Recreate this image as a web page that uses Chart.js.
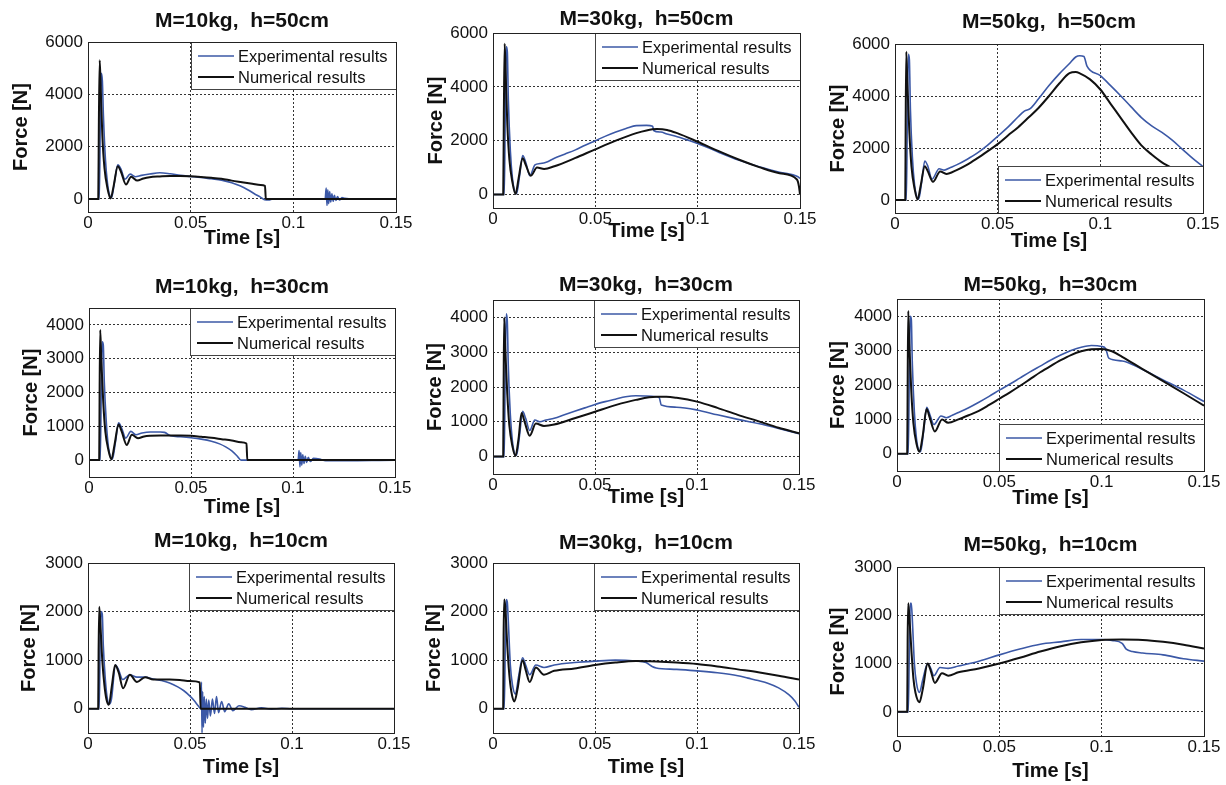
<!DOCTYPE html>
<html>
<head>
<meta charset="utf-8">
<script src="https://cdn.jsdelivr.net/npm/chart.js@4/dist/chart.umd.min.js"></script>
<style>
  html, body { margin: 0; padding: 0; background: #fff; overflow: hidden; }
  #page { position: relative; width: 1226px; height: 785px; overflow: hidden; }
  .panel { position: absolute; }
  .panel canvas { display: block; }
</style>
</head>
<body>
<div id="page"></div>
<script>
// ---- axis ticks -----------------------------------------------------------
const xTicks = [0, 0.05, 0.1, 0.15];
const xTickLabels = ['0', '0.05', '0.1', '0.15'];
const yTicks50 = [0, 2000, 4000, 6000];
const yTicks30 = [0, 1000, 2000, 3000, 4000];
const yTicks10 = [0, 1000, 2000, 3000];

const seriesNames = ['Experimental results', 'Numerical results'];
const panelTitles = [
  'M=10kg,  h=50cm', 'M=30kg,  h=50cm', 'M=50kg,  h=50cm',
  'M=10kg,  h=30cm', 'M=30kg,  h=30cm', 'M=50kg,  h=30cm',
  'M=10kg,  h=10cm', 'M=30kg,  h=10cm', 'M=50kg,  h=10cm'
];

// ---- M=10kg, h=50cm -------------------------------------------------------
const t_10_50_exp = [0, 0.0055, 0.006, 0.0065, 0.007, 0.0075, 0.0085, 0.0095, 0.0105, 0.0115, 0.013, 0.0145, 0.016, 0.018, 0.0205, 0.023, 0.026, 0.03, 0.035, 0.04, 0.045, 0.05, 0.055, 0.06, 0.065, 0.07, 0.074, 0.078, 0.081, 0.084, 0.086, 0.088, 0.09, 0.1, 0.1155, 0.116, 0.1164, 0.1168, 0.1172, 0.1177, 0.1182, 0.1188, 0.1194, 0.12, 0.1207, 0.1215, 0.1225, 0.1237, 0.125, 0.13, 0.15];
const f_10_50_exp = [0, 0, 3000, 4800, 4500, 3200, 1500, 600, 150, 50, 700, 1300, 1150, 750, 950, 850, 900, 950, 1000, 960, 900, 860, 820, 770, 720, 620, 500, 340, 200, 70, -30, -40, 0, 0, 0, 420, -250, 350, -180, 280, -120, 200, -90, 140, -60, 90, -40, 50, 20, 0, 0];
const t_10_50_num = [0, 0.005, 0.0053, 0.0057, 0.0062, 0.007, 0.008, 0.0095, 0.011, 0.0125, 0.0145, 0.016, 0.0185, 0.021, 0.024, 0.027, 0.03, 0.035, 0.04, 0.045, 0.05, 0.055, 0.06, 0.065, 0.07, 0.075, 0.08, 0.084, 0.0862, 0.0866, 0.1, 0.12, 0.15];
const f_10_50_num = [0, 0, 3000, 5300, 4200, 2400, 1200, 400, 20, 500, 1250, 1050, 550, 850, 700, 780, 830, 860, 880, 880, 865, 840, 810, 770, 700, 640, 580, 530, 500, 0, 0, 0, 0];

// ---- M=30kg, h=50cm -------------------------------------------------------
const t_30_50_exp = [0, 0.0055, 0.006, 0.0065, 0.007, 0.0075, 0.0085, 0.0095, 0.0105, 0.0115, 0.013, 0.0145, 0.016, 0.018, 0.0205, 0.023, 0.026, 0.03, 0.035, 0.04, 0.045, 0.05, 0.055, 0.06, 0.065, 0.07, 0.075, 0.078, 0.0785, 0.082, 0.085, 0.09, 0.095, 0.1, 0.11, 0.12, 0.13, 0.14, 0.149, 0.15];
const f_30_50_exp = [0, 0, 3000, 5500, 5300, 3500, 1600, 600, 150, 30, 700, 1450, 1200, 700, 1100, 1150, 1200, 1350, 1500, 1650, 1830, 2000, 2170, 2320, 2450, 2560, 2570, 2540, 2380, 2320, 2250, 2150, 2030, 1900, 1580, 1280, 1030, 830, 660, 600];
const t_30_50_num = [0, 0.005, 0.0053, 0.0057, 0.0062, 0.007, 0.008, 0.0095, 0.011, 0.0125, 0.0145, 0.016, 0.0185, 0.0215, 0.025, 0.03, 0.04, 0.05, 0.06, 0.07, 0.075, 0.08, 0.085, 0.09, 0.1, 0.11, 0.12, 0.13, 0.14, 0.1485, 0.1495, 0.15];
const f_30_50_num = [0, 0, 3000, 5600, 4500, 2600, 1300, 450, 20, 600, 1350, 1100, 700, 1000, 950, 1050, 1350, 1680, 2000, 2280, 2380, 2430, 2400, 2280, 1960, 1620, 1300, 1020, 790, 560, 300, 0];

// ---- M=50kg, h=50cm -------------------------------------------------------
const t_50_50_exp = [0, 0.0055, 0.006, 0.0065, 0.007, 0.0075, 0.0085, 0.0095, 0.0105, 0.0115, 0.013, 0.0145, 0.016, 0.018, 0.0215, 0.024, 0.027, 0.03, 0.035, 0.04, 0.045, 0.05, 0.055, 0.06, 0.063, 0.066, 0.07, 0.075, 0.08, 0.085, 0.088, 0.09, 0.092, 0.0935, 0.1, 0.105, 0.11, 0.115, 0.12, 0.125, 0.13, 0.135, 0.14, 0.145, 0.15];
const f_50_50_exp = [0, 0, 3000, 5600, 5400, 3500, 1600, 600, 150, 30, 700, 1500, 1300, 800, 1200, 1150, 1250, 1350, 1560, 1800, 2100, 2450, 2800, 3200, 3420, 3520, 3900, 4400, 4850, 5250, 5500, 5550, 5520, 5150, 4780, 4400, 4000, 3580, 3170, 2850, 2600, 2300, 1950, 1600, 1280];
const t_50_50_num = [0, 0.005, 0.0052, 0.0055, 0.006, 0.007, 0.008, 0.0095, 0.011, 0.0125, 0.0145, 0.016, 0.0185, 0.022, 0.025, 0.03, 0.035, 0.04, 0.045, 0.05, 0.055, 0.06, 0.065, 0.07, 0.075, 0.08, 0.085, 0.088, 0.09, 0.095, 0.1, 0.105, 0.11, 0.115, 0.12, 0.125, 0.13, 0.135, 0.14, 0.15];
const f_50_50_num = [0, 0, 3000, 5700, 4500, 2600, 1300, 450, 20, 550, 1300, 1100, 700, 1100, 1000, 1150, 1350, 1600, 1870, 2150, 2480, 2800, 3170, 3550, 4000, 4480, 4880, 4920, 4870, 4640, 4250, 3700, 3150, 2600, 2100, 1750, 1450, 1230, 1050, 750];

// ---- M=10kg, h=30cm -------------------------------------------------------
const t_10_30_exp = [0, 0.0055, 0.006, 0.0065, 0.007, 0.0075, 0.0085, 0.0095, 0.0105, 0.0115, 0.013, 0.0145, 0.016, 0.018, 0.0205, 0.023, 0.026, 0.03, 0.035, 0.037, 0.04, 0.045, 0.05, 0.055, 0.06, 0.064, 0.067, 0.07, 0.0725, 0.0745, 0.078, 0.1, 0.1025, 0.103, 0.1034, 0.1038, 0.1043, 0.1048, 0.1054, 0.106, 0.1067, 0.1075, 0.1085, 0.11, 0.113, 0.116, 0.15];
const f_10_30_exp = [0, 0, 2000, 3500, 3400, 2300, 1100, 400, 100, 30, 550, 1100, 950, 650, 850, 750, 800, 830, 830, 820, 720, 690, 660, 620, 560, 480, 390, 270, 130, 0, 0, 0, 0, 280, -200, 220, -150, 160, -100, 110, -70, 80, -40, 50, 30, -20, 0];
const t_10_30_num = [0, 0.005, 0.0052, 0.0055, 0.006, 0.007, 0.008, 0.0095, 0.011, 0.0125, 0.0145, 0.016, 0.0185, 0.021, 0.024, 0.027, 0.03, 0.035, 0.04, 0.045, 0.05, 0.055, 0.06, 0.065, 0.07, 0.0745, 0.0772, 0.0776, 0.1, 0.15];
const f_10_30_num = [0, 0, 2000, 3850, 3000, 1700, 850, 300, 20, 450, 1050, 850, 450, 750, 650, 700, 720, 730, 730, 730, 720, 690, 660, 620, 580, 530, 490, 0, 0, 0];

// ---- M=30kg, h=30cm -------------------------------------------------------
const t_30_30_exp = [0, 0.0055, 0.006, 0.0065, 0.007, 0.0075, 0.0085, 0.0095, 0.0105, 0.0115, 0.013, 0.0145, 0.016, 0.018, 0.0205, 0.023, 0.026, 0.03, 0.035, 0.04, 0.045, 0.05, 0.055, 0.06, 0.065, 0.07, 0.075, 0.08, 0.0815, 0.0825, 0.09, 0.1, 0.11, 0.12, 0.13, 0.14, 0.15];
const f_30_30_exp = [0, 0, 2500, 4100, 3900, 2600, 1200, 450, 100, 30, 600, 1300, 1100, 750, 1050, 1000, 1050, 1100, 1200, 1300, 1400, 1500, 1580, 1650, 1720, 1750, 1740, 1720, 1690, 1480, 1420, 1340, 1200, 1070, 950, 810, 660];
const t_30_30_num = [0, 0.005, 0.0052, 0.0055, 0.006, 0.007, 0.008, 0.0095, 0.011, 0.0125, 0.014, 0.0155, 0.018, 0.021, 0.025, 0.03, 0.04, 0.05, 0.06, 0.07, 0.08, 0.085, 0.09, 0.1, 0.11, 0.12, 0.13, 0.14, 0.15];
const f_30_30_num = [0, 0, 2000, 4000, 3100, 1800, 900, 300, 20, 500, 1250, 1000, 600, 950, 880, 920, 1100, 1290, 1480, 1630, 1720, 1720, 1690, 1580, 1400, 1200, 1020, 830, 670];

// ---- M=50kg, h=30cm -------------------------------------------------------
const t_50_30_exp = [0, 0.0055, 0.006, 0.0065, 0.007, 0.0075, 0.0085, 0.0095, 0.0105, 0.0115, 0.013, 0.0145, 0.016, 0.018, 0.0215, 0.024, 0.027, 0.03, 0.035, 0.04, 0.045, 0.05, 0.055, 0.06, 0.065, 0.07, 0.075, 0.08, 0.085, 0.09, 0.095, 0.1, 0.102, 0.1035, 0.11, 0.12, 0.13, 0.14, 0.15];
const f_50_30_exp = [0, 0, 2200, 4000, 3900, 2600, 1200, 450, 120, 60, 650, 1350, 1150, 850, 1100, 1050, 1120, 1200, 1340, 1500, 1670, 1850, 2020, 2200, 2380, 2550, 2720, 2870, 3000, 3100, 3150, 3120, 3050, 2780, 2700, 2450, 2150, 1850, 1520];
const t_50_30_num = [0, 0.005, 0.0052, 0.0055, 0.006, 0.007, 0.008, 0.0095, 0.011, 0.0125, 0.0145, 0.016, 0.0185, 0.022, 0.025, 0.03, 0.035, 0.04, 0.045, 0.05, 0.055, 0.06, 0.065, 0.07, 0.075, 0.08, 0.085, 0.09, 0.095, 0.1, 0.105, 0.11, 0.12, 0.13, 0.14, 0.15];
const f_50_30_num = [0, 0, 2000, 4150, 3200, 1800, 900, 300, 60, 500, 1300, 1050, 650, 1000, 900, 1000, 1120, 1250, 1420, 1600, 1780, 1970, 2170, 2370, 2550, 2720, 2870, 2980, 3040, 3050, 2980, 2820, 2460, 2110, 1760, 1400];

// ---- M=10kg, h=10cm -------------------------------------------------------
const t_10_10_exp = [0, 0.0055, 0.006, 0.0065, 0.007, 0.0075, 0.0085, 0.0095, 0.0105, 0.0115, 0.0135, 0.015, 0.017, 0.0205, 0.024, 0.028, 0.032, 0.036, 0.04, 0.044, 0.047, 0.05, 0.052, 0.054, 0.0553, 0.0556, 0.0559, 0.0562, 0.0566, 0.057, 0.0575, 0.058, 0.0586, 0.0592, 0.06, 0.061, 0.062, 0.063, 0.064, 0.0655, 0.067, 0.069, 0.071, 0.074, 0.077, 0.08, 0.085, 0.09, 0.095, 0.1, 0.15];
const f_10_10_exp = [0, 0, 1500, 2000, 1950, 1300, 600, 200, 100, 200, 900, 800, 600, 700, 650, 650, 610, 580, 530, 450, 370, 260, 170, 60, 0, 550, -500, 350, -380, 250, -300, 200, -200, 180, -150, 200, -100, 250, -80, 150, -60, 100, -40, 60, 30, -20, 20, -10, 10, 0, 0];
const t_10_10_num = [0, 0.005, 0.0052, 0.0055, 0.006, 0.007, 0.008, 0.009, 0.0102, 0.0118, 0.0133, 0.015, 0.0172, 0.0205, 0.024, 0.028, 0.032, 0.036, 0.04, 0.045, 0.05, 0.0548, 0.0552, 0.08, 0.15];
const f_10_10_num = [0, 0, 1200, 2100, 1800, 1000, 500, 200, 80, 500, 900, 750, 420, 700, 550, 650, 600, 600, 600, 590, 570, 540, 0, 0, 0];

// ---- M=30kg, h=10cm -------------------------------------------------------
const t_30_10_exp = [0, 0.0055, 0.006, 0.0065, 0.007, 0.0075, 0.0085, 0.0095, 0.011, 0.0125, 0.0145, 0.016, 0.018, 0.021, 0.025, 0.03, 0.04, 0.05, 0.06, 0.07, 0.075, 0.078, 0.08, 0.09, 0.1, 0.11, 0.12, 0.125, 0.13, 0.135, 0.14, 0.145, 0.148, 0.15];
const f_30_10_exp = [0, 0, 1200, 2250, 2200, 1800, 900, 500, 300, 650, 1050, 900, 700, 900, 850, 900, 950, 980, 1000, 980, 950, 870, 840, 810, 780, 740, 680, 630, 580, 520, 430, 290, 160, 30];
const t_30_10_num = [0, 0.005, 0.0052, 0.0055, 0.006, 0.007, 0.008, 0.009, 0.0105, 0.012, 0.0145, 0.016, 0.018, 0.021, 0.025, 0.03, 0.04, 0.05, 0.06, 0.07, 0.08, 0.09, 0.1, 0.11, 0.12, 0.13, 0.14, 0.15];
const f_30_10_num = [0, 0, 1500, 2250, 2100, 1300, 700, 350, 150, 400, 1000, 800, 550, 850, 700, 780, 830, 900, 950, 980, 970, 950, 920, 870, 810, 750, 680, 600];

// ---- M=50kg, h=10cm -------------------------------------------------------
const t_50_10_exp = [0, 0.0055, 0.006, 0.0065, 0.007, 0.0075, 0.0085, 0.0095, 0.011, 0.0125, 0.015, 0.0165, 0.018, 0.021, 0.025, 0.03, 0.04, 0.05, 0.06, 0.07, 0.08, 0.09, 0.1, 0.105, 0.11, 0.112, 0.115, 0.12, 0.13, 0.14, 0.15];
const f_50_10_exp = [0, 0, 1200, 2250, 2250, 1900, 1000, 600, 400, 650, 1000, 900, 750, 920, 900, 950, 1050, 1180, 1300, 1400, 1450, 1500, 1500, 1480, 1420, 1300, 1250, 1220, 1180, 1100, 1050];
const t_50_10_num = [0, 0.005, 0.0052, 0.0055, 0.006, 0.007, 0.008, 0.009, 0.011, 0.0125, 0.015, 0.0165, 0.0185, 0.022, 0.025, 0.03, 0.04, 0.05, 0.06, 0.07, 0.08, 0.09, 0.1, 0.11, 0.12, 0.13, 0.14, 0.15];
const f_50_10_num = [0, 0, 1500, 2250, 2000, 1300, 700, 400, 200, 450, 1000, 850, 600, 800, 750, 820, 900, 1000, 1120, 1250, 1360, 1440, 1490, 1500, 1490, 1450, 1390, 1310];

// ---- panel contents -------------------------------------------------------
const panelData = [
  { exp: [t_10_50_exp, f_10_50_exp], num: [t_10_50_num, f_10_50_num], yMin: -500, yMax: 6000, yTicks: yTicks50 },
  { exp: [t_30_50_exp, f_30_50_exp], num: [t_30_50_num, f_30_50_num], yMin: -500, yMax: 6000, yTicks: yTicks50 },
  { exp: [t_50_50_exp, f_50_50_exp], num: [t_50_50_num, f_50_50_num], yMin: -500, yMax: 6000, yTicks: yTicks50 },
  { exp: [t_10_30_exp, f_10_30_exp], num: [t_10_30_num, f_10_30_num], yMin: -500, yMax: 4500, yTicks: yTicks30 },
  { exp: [t_30_30_exp, f_30_30_exp], num: [t_30_30_num, f_30_30_num], yMin: -500, yMax: 4500, yTicks: yTicks30 },
  { exp: [t_50_30_exp, f_50_30_exp], num: [t_50_30_num, f_50_30_num], yMin: -500, yMax: 4500, yTicks: yTicks30 },
  { exp: [t_10_10_exp, f_10_10_exp], num: [t_10_10_num, f_10_10_num], yMin: -500, yMax: 3000, yTicks: yTicks10 },
  { exp: [t_30_10_exp, f_30_10_exp], num: [t_30_10_num, f_30_10_num], yMin: -500, yMax: 3000, yTicks: yTicks10 },
  { exp: [t_50_10_exp, f_50_10_exp], num: [t_50_10_num, f_50_10_num], yMin: -500, yMax: 3000, yTicks: yTicks10 }
];

// ---- page layout: plot rectangle of each panel and its text offsets -------
const frames = [
  { l: 88,  t: 42,  r: 396,  b: 212, titleGap: 21, yTitleOff: 67, xTitleOff: 26, legendAt: 'top' },
  { l: 493, t: 33,  r: 800,  b: 208, titleGap: 14, yTitleOff: 57, xTitleOff: 23, legendAt: 'top' },
  { l: 895, t: 44,  r: 1203, b: 213, titleGap: 22, yTitleOff: 57, xTitleOff: 28, legendAt: 'bottom' },
  { l: 89,  t: 308, r: 395,  b: 477, titleGap: 21, yTitleOff: 58, xTitleOff: 30, legendAt: 'top' },
  { l: 493, t: 300, r: 799,  b: 474, titleGap: 15, yTitleOff: 58, xTitleOff: 23, legendAt: 'top' },
  { l: 897, t: 299, r: 1204, b: 471, titleGap: 14, yTitleOff: 59, xTitleOff: 27, legendAt: 'bottom' },
  { l: 88,  t: 563, r: 394,  b: 733, titleGap: 22, yTitleOff: 59, xTitleOff: 34, legendAt: 'top' },
  { l: 493, t: 563, r: 799,  b: 733, titleGap: 20, yTitleOff: 59, xTitleOff: 34, legendAt: 'top' },
  { l: 897, t: 567, r: 1204, b: 736, titleGap: 22, yTitleOff: 59, xTitleOff: 35, legendAt: 'top' }
];

const AXW = 90;   // room left of the plot for tick labels and y title
const TOPH = 40;  // room above the plot for the panel title
const BOTH = 50;  // room below the plot for tick labels and x title
const RPAD = 26;  // room right of the plot for the last x label

const FONT = '"Liberation Sans", Arial, Helvetica, sans-serif';
const BLUE = '#3b58a6';
const BLACK = '#111111';

// Panel title, centred over the plot area
const panelTitle = {
  id: 'panelTitle',
  afterDraw(chart, args, opts) {
    const { ctx, chartArea: a } = chart;
    ctx.save();
    ctx.font = 'bold 21px ' + FONT;
    ctx.fillStyle = '#111';
    ctx.textAlign = 'center';
    ctx.textBaseline = 'middle';
    ctx.fillText(opts.text, (a.left + a.right) / 2, a.top - opts.gap);
    ctx.restore();
  }
};

// Legend box drawn inside the plot area, in the top or bottom right corner
const insideLegend = {
  id: 'insideLegend',
  afterDatasetsDraw(chart, args, opts) {
    const { ctx, chartArea: a } = chart;
    const w = 205, h = 47;
    const x = Math.round(a.right) - w;
    const y = opts.at === 'bottom' ? Math.round(a.bottom) - h : Math.round(a.top);
    ctx.save();
    ctx.fillStyle = '#fff';
    ctx.fillRect(x, y, w, h);
    ctx.strokeStyle = '#444';
    ctx.lineWidth = 1;
    ctx.strokeRect(x + 0.5, y + 0.5, w, h);
    chart.data.datasets.forEach((ds, i) => {
      const cy = y + 14 + i * 21;
      ctx.strokeStyle = ds.borderColor;
      ctx.lineWidth = ds.borderWidth;
      ctx.beginPath();
      ctx.moveTo(x + 7, cy);
      ctx.lineTo(x + 43, cy);
      ctx.stroke();
      ctx.fillStyle = '#111';
      ctx.font = '16.5px ' + FONT;
      ctx.textAlign = 'left';
      ctx.textBaseline = 'middle';
      ctx.fillText(ds.label, x + 47, cy + 1);
    });
    ctx.restore();
  }
};

// Solid box round the plot area
const plotFrame = {
  id: 'plotFrame',
  afterDraw(chart) {
    const { ctx, chartArea: a } = chart;
    ctx.save();
    ctx.strokeStyle = '#222';
    ctx.lineWidth = 1;
    const l = Math.round(a.left) + 0.5, t = Math.round(a.top) + 0.5;
    ctx.strokeRect(l, t, Math.round(a.right) - Math.round(a.left), Math.round(a.bottom) - Math.round(a.top));
    ctx.restore();
  }
};

const page = document.getElementById('page');

panelData.forEach((pd, k) => {
  const fr = frames[k];
  const pw = fr.r - fr.l, ph = fr.b - fr.t;
  const holder = document.createElement('div');
  holder.className = 'panel';
  holder.style.left = (fr.l - AXW) + 'px';
  holder.style.top = (fr.t - TOPH) + 'px';
  const canvas = document.createElement('canvas');
  canvas.width = AXW + pw + RPAD;
  canvas.height = TOPH + ph + BOTH;
  canvas.style.width = canvas.width + 'px';
  canvas.style.height = canvas.height + 'px';
  holder.appendChild(canvas);
  page.appendChild(holder);

  const toPoints = (pair) => pair[0].map((x, i) => ({ x, y: pair[1][i] }));

  new Chart(canvas, {
    type: 'line',
    data: {
      datasets: [
        { label: seriesNames[0], data: toPoints(pd.exp), borderColor: BLUE, borderWidth: 1.6, order: 1 },
        { label: seriesNames[1], data: toPoints(pd.num), borderColor: BLACK, borderWidth: 2, order: 0 }
      ]
    },
    options: {
      responsive: false,
      animation: false,
      devicePixelRatio: 1,
      events: [],
      layout: { padding: { top: TOPH, right: RPAD, left: 0, bottom: 0 } },
      elements: {
        point: { radius: 0 },
        line: { cubicInterpolationMode: 'monotone', fill: false }
      },
      plugins: {
        legend: { display: false },
        tooltip: { enabled: false },
        title: { display: false },
        panelTitle: { text: panelTitles[k], gap: fr.titleGap },
        insideLegend: { at: fr.legendAt }
      },
      scales: {
        x: {
          type: 'linear',
          min: 0,
          max: 0.15,
          afterBuildTicks: (s) => { s.ticks = xTicks.map(v => ({ value: v })); },
          afterFit: (s) => { s.height = BOTH; },
          ticks: {
            autoSkip: false,
            maxRotation: 0,
            padding: 1,
            color: '#111',
            font: { family: FONT, size: 17 },
            callback: (v, i) => xTickLabels[i]
          },
          grid: { color: 'rgba(0,0,0,0.8)', lineWidth: 1, drawTicks: false },
          border: { display: false, dash: [2, 2] },
          title: {
            display: true,
            text: 'Time [s]',
            color: '#111',
            font: { family: FONT, size: 20, weight: 'bold' },
            padding: BOTH - 12 - fr.xTitleOff
          }
        },
        y: {
          type: 'linear',
          min: pd.yMin,
          max: pd.yMax,
          afterBuildTicks: (s) => { s.ticks = pd.yTicks.map(v => ({ value: v })); },
          afterFit: (s) => { s.width = AXW; },
          ticks: {
            autoSkip: false,
            padding: 5,
            color: '#111',
            font: { family: FONT, size: 17 },
            callback: (v, i) => String(pd.yTicks[i])
          },
          grid: { color: 'rgba(0,0,0,0.8)', lineWidth: 1, drawTicks: false },
          border: { display: false, dash: [2, 2] },
          title: {
            display: true,
            text: 'Force [N]',
            color: '#111',
            font: { family: FONT, size: 20, weight: 'bold' },
            padding: AXW - 12 - fr.yTitleOff
          }
        }
      }
    },
    plugins: [insideLegend, plotFrame, panelTitle]
  });
});
</script>
</body>
</html>
